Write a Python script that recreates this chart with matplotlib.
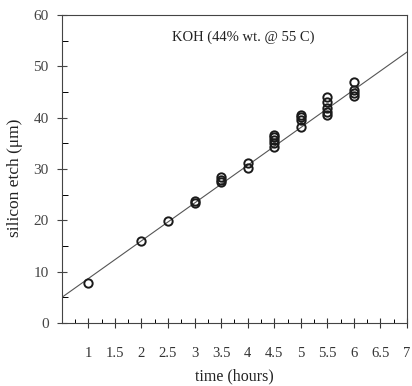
import numpy as np
import matplotlib.pyplot as plt
from matplotlib.ticker import MultipleLocator

# measured etch depth per run
time_h = [1, 2, 2.5, 3, 3, 3.5, 3.5, 3.5, 4, 4,
          4.5, 4.5, 4.5, 4.5, 4.5, 5, 5, 5, 5,
          5.5, 5.5, 5.5, 5.5, 5.5, 6, 6, 6, 6]
etch_um = [7.9, 16.0, 19.8, 23.3, 23.7, 27.4, 27.9, 28.4, 30.3, 31.2,
           34.3, 35.0, 35.6, 36.2, 36.7, 38.1, 39.5, 40.1, 40.6,
           40.6, 41.2, 41.8, 43.1, 44.0, 44.2, 44.8, 45.4, 47.0]

# fitted line endpoints
fit_x = [0.5, 7]
fit_y = [5.0, 52.8]

plt.rcParams['font.family'] = ['Liberation Serif', 'DejaVu Serif']

fig = plt.figure(figsize=(4.12, 3.86), dpi=100)
ax = fig.add_axes([0.150, 0.163, 0.838, 0.798])

ax.plot(fit_x, fit_y, color='#555555', lw=0.8, zorder=1)
ax.plot(time_h, etch_um, linestyle='none', marker='o', ms=6,
        mfc='none', mec='#1a1a1a', mew=1.4, zorder=2)

ax.set_xlim(0.5, 7)
ax.set_ylim(0, 60)
ax.set_xticks([1, 1.5, 2, 2.5, 3, 3.5, 4, 4.5, 5, 5.5, 6, 6.5, 7])
ax.set_xticklabels(['1', '1.5', '2', '2.5', '3', '3.5', '4', '4.5',
                    '5', '5.5', '6', '6.5', '7'])
ax.xaxis.set_minor_locator(MultipleLocator(0.25))
ax.set_yticks([0, 10, 20, 30, 40, 50, 60])
ax.yaxis.set_minor_locator(MultipleLocator(5))

ax.tick_params(axis='x', which='major', direction='inout', length=7,
               width=0.8, pad=14, labelsize=10.5, colors='#333333')
ax.tick_params(axis='x', which='minor', direction='in', length=3, width=0.7)
ax.tick_params(axis='y', which='major', direction='inout', length=7,
               width=0.8, pad=6, labelsize=11, colors='#444444')
ax.tick_params(axis='y', which='minor', direction='in', length=4, width=0.7)

for s in ax.spines.values():
    s.set_linewidth(0.8)
    s.set_color('#444444')

ax.set_xlabel('time (hours)', fontsize=11.5, color='#222222')
ax.xaxis.set_label_coords(0.5, -0.148)
ax.set_ylabel('silicon etch (\u03bcm)', fontsize=12.5, color='#222222')
ax.yaxis.set_label_coords(-0.112, 0.47)

ax.text(0.32, 0.915, 'KOH (44% wt. @ 55 C)', transform=ax.transAxes,
        fontsize=10.5, color='#222222')

fig.savefig('out.png', dpi=100)
